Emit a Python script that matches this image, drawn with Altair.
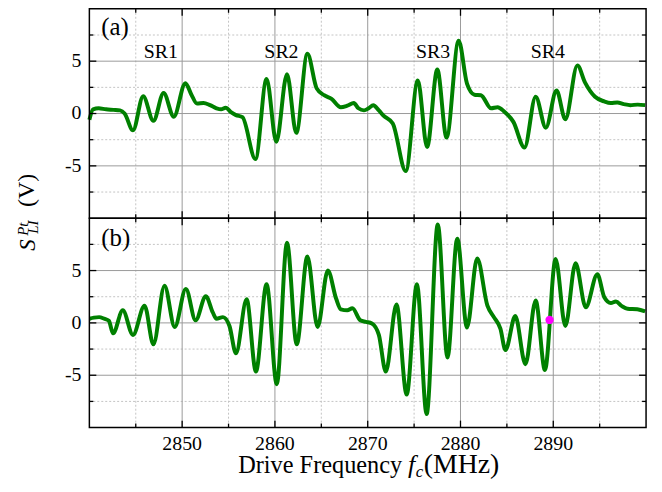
import altair as alt
import pandas as pd

# ---- data ----
freq_a = [2840.0, 2840.4, 2841.0, 2841.8, 2842.6, 2843.3, 2843.8, 2844.7, 2845.8, 2846.9,
          2848.0, 2849.1, 2850.35, 2851.0, 2851.6, 2852.3, 2853.0, 2853.7, 2854.2, 2854.7,
          2855.3, 2855.8, 2856.5, 2857.9, 2859.1, 2860.15, 2861.3, 2862.3, 2863.5, 2864.5,
          2865.3, 2866.1, 2867.1, 2867.8, 2868.5, 2869.0, 2869.6, 2870.1, 2870.6, 2871.2,
          2871.7, 2872.7, 2874.1, 2875.4, 2876.4, 2877.5, 2878.5, 2879.8, 2880.7, 2881.5,
          2882.2, 2883.3, 2884.0, 2884.7, 2885.7, 2886.9, 2888.1, 2889.2, 2890.35, 2891.3,
          2892.6, 2893.4, 2894.5, 2895.5, 2896.2, 2896.9, 2897.6, 2898.3, 2899.1, 2899.9]
sig_a = [-0.6, 0.4, 0.5, 0.4, 0.35, 0.3, 0.0, -1.6, 1.65, -0.7,
         1.95, -0.3, 2.9, 1.8, 0.95, 1.0, 0.8, 0.5, 0.4, 0.55,
         0.1, -0.15, -0.35, -4.35, 3.3, -2.7, 3.75, -1.85, 5.7, 2.4,
         1.75, 1.4, 0.6, 0.75, 1.0, 0.5, 0.3, 0.5, 0.8, 0.3,
         -0.2, -0.95, -5.5, 3.15, -3.2, 4.2, -2.3, 6.95, 2.85, 1.8,
         1.75, 0.5, 0.6, 0.2, -0.8, -3.25, 1.6, -1.35, 2.2, -0.55,
         4.6, 3.0, 1.6, 1.15, 1.0, 1.05, 0.9, 0.8, 0.85, 0.8]

freq_b = [2840.0, 2840.5, 2841.05, 2841.6, 2842.1, 2842.55, 2843.6, 2844.7, 2845.95, 2846.9,
          2848.1, 2849.2, 2850.4, 2851.45, 2852.55, 2853.3, 2853.7, 2854.4, 2855.1, 2855.8,
          2856.95, 2857.95, 2859.1, 2860.2, 2861.3, 2862.35, 2863.5, 2864.6, 2865.7, 2866.6,
          2867.1, 2867.8, 2868.35, 2869.2, 2869.8, 2870.45, 2871.2, 2871.95, 2873.1, 2874.2,
          2875.3, 2876.35, 2877.55, 2878.6, 2879.65, 2880.7, 2881.8, 2882.9, 2883.6, 2884.3,
          2884.85, 2885.9, 2887.0, 2888.1, 2889.1, 2890.25, 2891.3, 2892.4, 2893.5, 2894.75,
          2895.5, 2896.2, 2896.75, 2897.4, 2898.0, 2899.05, 2899.9]
sig_b = [0.4, 0.5, 0.55, 0.4, 0.2, -1.0, 1.2, -1.15, 1.65, -2.05,
         3.55, -0.4, 3.25, 0.25, 2.55, 1.0, 0.4, 0.55, -0.3, -2.9,
         2.25, -4.65, 3.7, -5.85, 7.65, -2.05, 6.35, -0.4, 5.0, 2.3,
         1.3, 1.2, 1.4, 0.25, 0.1, -0.05, -1.15, -4.65, 1.75, -6.85,
         3.7, -8.7, 9.4, -3.3, 8.05, -0.45, 6.15, 1.65, 0.55, -0.55,
         -2.6, 0.65, -3.95, 2.15, -4.5, 6.1, -0.3, 5.7, 1.5, 4.65,
         2.45, 1.9, 2.05, 1.6, 1.35, 1.3, 1.1]

marker_f = [2889.6]
marker_s = [0.28]

sr_labels = ["SR1", "SR2", "SR3", "SR4"]
sr_f = [2847.7, 2860.7, 2877.05, 2889.4]
sr_s = [5.3, 5.3, 5.3, 5.3]

major_x = [2850, 2860, 2870, 2880, 2890]
major_x_labels = ["2850", "2860", "2870", "2880", "2890"]
minor_x = [2845, 2855, 2865, 2875, 2885, 2895]
major_y = [-5, 0, 5]
major_y_labels = ["-5", "0", "5"]
minor_y = [-7.5, -2.5, 2.5, 7.5]

W, H = 561, 211
FONT = "Liberation Serif"
GREEN = "#008000"

xs = alt.Scale(domain=[2840, 2900], nice=False, zero=False)
ys = alt.Scale(domain=[-10, 10], nice=False, zero=False)


def rules_x(vals, y0, y1, **kw):
    return alt.Chart(pd.DataFrame({"v": vals})).mark_rule(**kw).encode(
        x=alt.X("v:Q", scale=xs, axis=None), y=alt.value(y0), y2=alt.value(y1))


def rules_y(vals, x0, x1, **kw):
    return alt.Chart(pd.DataFrame({"v": vals})).mark_rule(**kw).encode(
        y=alt.Y("v:Q", scale=ys, axis=None), x=alt.value(x0), x2=alt.value(x1))


def text_px(t, x, y, size, italic=False, angle=0, align="left"):
    kw = dict(align=align, baseline="alphabetic", font=FONT, fontSize=size, color="black")
    if italic:
        kw["fontStyle"] = "italic"
    if angle:
        kw["angle"] = angle
    return alt.Chart(pd.DataFrame({"t": [t]})).mark_text(**kw).encode(
        x=alt.value(x), y=alt.value(y), text="t:N")


def panel(freqs, sigs, show_xlabels, label, extra):
    df = pd.DataFrame({"f": freqs, "s": sigs})
    line = alt.Chart(df).mark_line(color=GREEN, strokeWidth=4, interpolate="monotone").encode(
        x=alt.X("f:Q", scale=xs, axis=None), y=alt.Y("s:Q", scale=ys, axis=None))
    dash = dict(color="#c4c4c4", strokeWidth=1, strokeDash=[2, 2])
    solid = dict(color="#9a9a9a", strokeWidth=1)
    tick = dict(color="black", strokeWidth=1.3)
    frame = alt.Chart(pd.DataFrame({"k": [0]})).mark_rect(
        fillOpacity=0, stroke="black", strokeWidth=1.5).encode(
        x=alt.value(0), x2=alt.value(W), y=alt.value(0), y2=alt.value(H))
    ylab = alt.Chart(pd.DataFrame({"v": major_y, "t": major_y_labels})).mark_text(
        align="right", baseline="middle", font=FONT, fontSize=20, color="black", dx=-8).encode(
        x=alt.value(0), y=alt.Y("v:Q", scale=ys, axis=None), text="t:N")
    layers = [
        rules_x(minor_x, 0, H, **dash),
        rules_y(minor_y, 0, W, **dash),
        rules_x(major_x, 0, H, **solid),
        rules_y(major_y, 0, W, **solid),
        line,
        rules_x(major_x, 0, 7, **tick), rules_x(major_x, H - 7, H, **tick),
        rules_x(minor_x, 0, 4, **tick), rules_x(minor_x, H - 4, H, **tick),
        rules_y(major_y, 0, 7, **tick), rules_y(major_y, W - 7, W, **tick),
        rules_y(minor_y, 0, 4, **tick), rules_y(minor_y, W - 4, W, **tick),
        frame,
        ylab,
        text_px(label, 12, 26 if label == "(a)" else 28, 25),
    ]
    if show_xlabels:
        xlab = alt.Chart(pd.DataFrame({"v": major_x, "t": major_x_labels})).mark_text(
            align="center", baseline="alphabetic", font=FONT, fontSize=20, color="black").encode(
            x=alt.X("v:Q", scale=xs, axis=None), y=alt.value(H + 23), text="t:N")
        layers.append(xlab)
    layers += extra
    return alt.layer(*layers).properties(width=W, height=H)


sr_text = alt.Chart(pd.DataFrame({"t": sr_labels, "f": sr_f, "s": sr_s})).mark_text(
    align="center", baseline="alphabetic", font=FONT, fontSize=20, color="black").encode(
    x=alt.X("f:Q", scale=xs, axis=None), y=alt.Y("s:Q", scale=ys, axis=None), text="t:N")

ytitle = [
    text_px("S", -55, 238, 23, italic=True, angle=270, align="center"),
    text_px("Pt", -62, 222, 15, italic=True, angle=270, align="center"),
    text_px("LI", -52, 220, 15, italic=True, angle=270, align="center"),
    text_px("(V)", -56, 183, 24, angle=270, align="center"),
]

marker = alt.Chart(pd.DataFrame({"f": marker_f, "s": marker_s})).mark_circle(
    color="#ff00ff", opacity=1, size=70).encode(
    x=alt.X("f:Q", scale=xs, axis=None), y=alt.Y("s:Q", scale=ys, axis=None))

xtitle = [
    text_px("Drive Frequency", 150, 257, 24.5),
    text_px("f", 321, 257, 26, italic=True),
    text_px("c", 329, 261, 17, italic=True),
    text_px("(MHz)", 337, 257, 28),
]

pa = panel(freq_a, sig_a, False, "(a)", [sr_text] + ytitle)
pb = panel(freq_b, sig_b, True, "(b)", [marker] + xtitle)

chart = alt.vconcat(pa, pb, spacing=0, bounds="flush").properties(
    padding={"left": 7, "top": -2, "right": 0, "bottom": 0}
).configure_view(stroke=None)

chart.save("out.html", embed_options={"renderer": "svg", "actions": False})
